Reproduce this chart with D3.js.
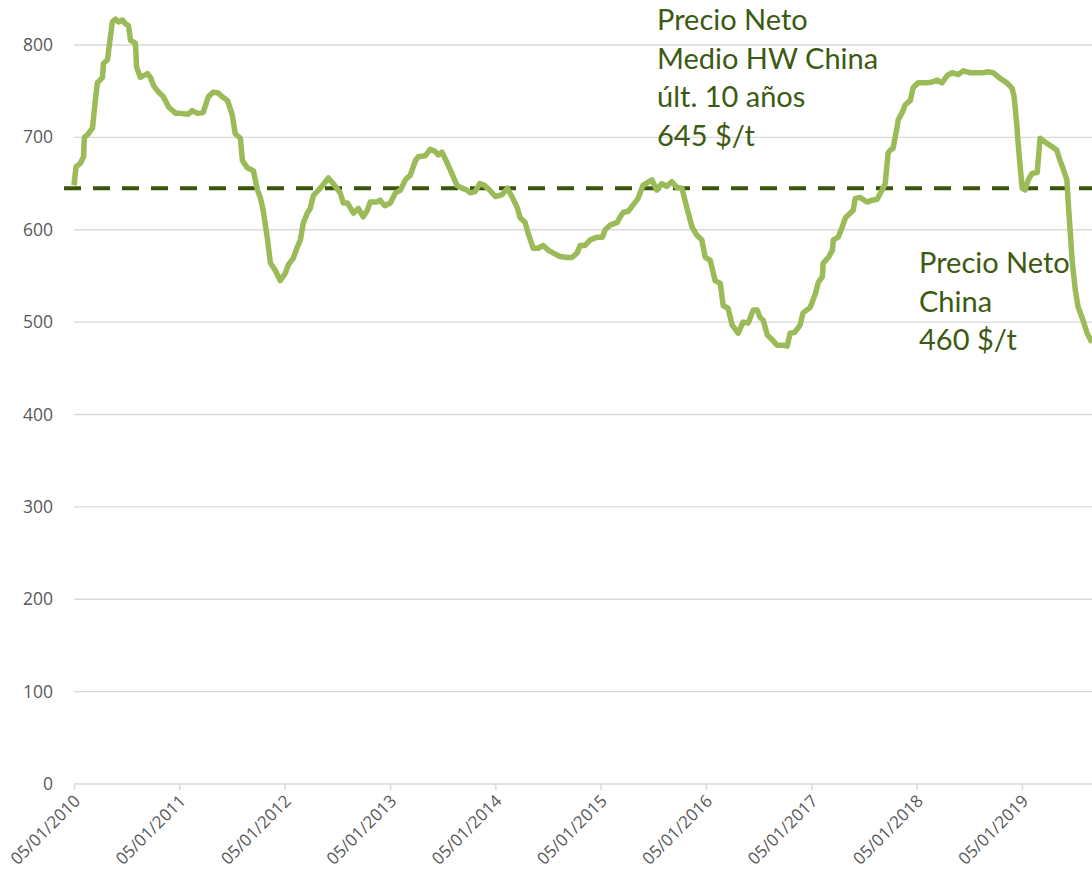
<!DOCTYPE html>
<html>
<head>
<meta charset="utf-8">
<script src="https://cdn.jsdelivr.net/npm/d3@7"></script>
<style>
  body { margin: 0; background: #fff; }
  svg { display: block; }
</style>
</head>
<body>
<svg id="chart" width="1092" height="874"></svg>
<script>
const canvasWidth = 1092,
    canvasHeight = 874,
    padding = { top: 45, right: 0, bottom: 90, left: 74 }

// weekly-ish net price, $/t
const dates = [
  '2010-01-05','2010-01-12','2010-01-27','2010-02-07','2010-02-10','2010-02-24','2010-03-10','2010-03-20','2010-03-27','2010-04-14',
  '2010-04-17','2010-05-01','2010-05-05','2010-05-18','2010-05-29','2010-06-08','2010-06-22','2010-07-02','2010-07-13','2010-07-20',
  '2010-08-06','2010-08-10','2010-08-23','2010-09-17','2010-09-27','2010-10-08','2010-10-25','2010-11-11','2010-11-29','2010-12-23',
  '2011-01-09','2011-02-05','2011-02-19','2011-03-09','2011-03-29','2011-04-16','2011-05-03','2011-05-20','2011-06-03','2011-06-21',
  '2011-07-08','2011-07-18','2011-08-05','2011-08-12','2011-08-29','2011-09-19','2011-10-03','2011-10-13','2011-10-23','2011-11-06',
  '2011-11-17','2011-12-04','2011-12-21','2012-01-08','2012-01-18','2012-02-04','2012-02-18','2012-02-29','2012-03-10','2012-03-24',
  '2012-04-03','2012-04-14','2012-05-08','2012-06-05','2012-06-22','2012-07-16','2012-07-27','2012-08-10','2012-08-31','2012-09-17',
  '2012-10-04','2012-10-18','2012-10-28','2012-11-21','2012-12-01','2012-12-18','2013-01-06','2013-01-24','2013-02-10','2013-02-27',
  '2013-03-16','2013-04-03','2013-04-13','2013-05-07','2013-05-24','2013-06-10','2013-06-21','2013-07-04','2013-07-21','2013-08-07',
  '2013-08-25','2013-09-11','2013-09-28','2013-10-09','2013-10-26','2013-11-12','2013-11-29','2013-12-16','2014-01-05','2014-01-29',
  '2014-02-16','2014-03-05','2014-03-22','2014-04-01','2014-04-18','2014-04-29','2014-05-16','2014-06-02','2014-06-20','2014-07-07',
  '2014-07-24','2014-08-17','2014-09-11','2014-09-28','2014-10-16','2014-10-26','2014-11-12','2014-11-30','2014-12-24','2015-01-11',
  '2015-01-21','2015-02-07','2015-03-04','2015-03-14','2015-03-25','2015-04-11','2015-04-28','2015-05-15','2015-06-01','2015-07-02',
  '2015-07-19','2015-08-05','2015-08-22','2015-09-09','2015-09-26','2015-10-14','2015-10-31','2015-11-18','2015-12-05','2015-12-22',
  '2016-01-03','2016-01-20','2016-02-06','2016-02-24','2016-03-05','2016-03-22','2016-04-05','2016-04-26','2016-05-13','2016-05-31',
  '2016-06-17','2016-07-01','2016-07-11','2016-07-22','2016-08-05','2016-08-22','2016-09-08','2016-09-29','2016-10-13','2016-10-23',
  '2016-11-09','2016-11-27','2016-12-07','2017-01-01','2017-01-19','2017-01-29','2017-02-12','2017-02-15','2017-03-05','2017-03-19',
  '2017-03-22','2017-04-08','2017-04-22','2017-05-03','2017-05-20','2017-05-30','2017-06-06','2017-06-23','2017-07-17','2017-08-04',
  '2017-08-21','2017-09-07','2017-09-18','2017-09-28','2017-10-05','2017-10-15','2017-10-29','2017-11-02','2017-11-16','2017-11-26',
  '2017-12-14','2017-12-24','2018-01-10','2018-02-10','2018-02-28','2018-03-17','2018-04-03','2018-04-21','2018-05-08','2018-05-29',
  '2018-06-15','2018-07-09','2018-08-06','2018-08-23','2018-09-09','2018-09-27','2018-10-21','2018-11-14','2018-12-02','2018-12-09',
  '2018-12-19','2018-12-22','2018-12-30','2019-01-06','2019-01-16','2019-01-27','2019-02-09','2019-02-27','2019-03-09','2019-03-26',
  '2019-04-19','2019-05-06','2019-05-17','2019-05-27','2019-06-10','2019-06-14','2019-06-21','2019-06-28','2019-07-09','2019-07-19',
  '2019-08-05','2019-08-19','2019-09-05'
]
const prices = [
  648,668,672,679,700,704,710,740,759,765,
  780,784,794,825,828,825,827,823,821,805,
  802,776,765,769,765,756,749,744,733,726,
  726,725,729,726,727,744,749,748,744,740,
  724,704,699,675,667,664,643,635,621,592,
  564,556,545,553,562,569,581,589,607,618,
  623,637,645,656,650,640,629,629,618,623,
  614,621,630,630,632,626,629,640,643,654,
  659,675,679,680,687,685,681,684,673,661,
  648,645,643,640,641,650,648,643,636,638,
  645,635,624,613,608,596,580,580,583,578,
  575,571,570,570,575,583,583,589,592,592,
  600,605,608,614,619,620,627,634,648,654,
  643,650,647,652,646,645,624,603,594,589,
  570,567,545,542,518,515,497,488,500,499,
  513,513,505,502,486,481,475,475,474,488,
  489,497,510,516,531,543,549,564,570,578,
  589,592,603,613,618,621,634,635,630,632,
  633,643,650,683,686,688,711,719,727,735,
  740,754,759,759,760,762,759,767,770,768,
  772,770,770,770,771,770,764,759,753,744,
  711,697,668,645,643,654,661,662,699,695,
  690,686,675,667,654,632,600,567,535,516,
  502,488,478
]

const average = 645
const yTicks = [0, 100, 200, 300, 400, 500, 600, 700, 800]
const tickYears = [2010, 2011, 2012, 2013, 2014, 2015, 2016, 2017, 2018, 2019]
const avgLabel = ['Precio Neto', 'Medio HW China', 'últ. 10 años', '645 $/t']
const lastLabel = ['Precio Neto', 'China', '460 $/t']

const parse = d3.timeParse('%Y-%m-%d')
const fmt = d3.timeFormat('%d/%m/%Y')

const data = dates.map((d, i) => ({ date: parse(d), value: prices[i] }))

const x = d3.scaleTime()
    .domain([data[0].date, data[data.length - 1].date])
    .range([padding.left, canvasWidth - padding.right])

const y = d3.scaleLinear()
    .domain([0, 800])
    .range([canvasHeight - padding.bottom, padding.top])

const svg = d3.select('#chart')

// gridlines
svg.append('g')
    .selectAll('line')
    .data(yTicks.filter(t => t > 0))
    .enter().append('line')
    .attr('x1', padding.left)
    .attr('x2', canvasWidth)
    .attr('y1', d => y(d))
    .attr('y2', d => y(d))
    .attr('stroke', '#d9d9d9')
    .attr('stroke-width', 1.3)

// y axis labels
const yAxis = d3.axisLeft(y).tickValues(yTicks).tickSize(0).tickPadding(0)
svg.append('g')
    .attr('transform', `translate(${padding.left - 21}, 0)`)
    .call(yAxis)
    .call(g => g.select('.domain').remove())
    .selectAll('text')
    .attr('font-family', '"Open Sans", sans-serif')
    .attr('font-size', 17.5)
    .attr('fill', '#595959')

// x axis
const xAxis = d3.axisBottom(x)
    .tickValues(tickYears.map(yr => new Date(yr, 0, 5)))
    .tickFormat(fmt)
    .tickSizeInner(6)
    .tickSizeOuter(0)

svg.append('g')
    .attr('transform', `translate(0, ${y(0)})`)
    .call(xAxis)
    .call(g => g.select('.domain').attr('stroke', '#d9d9d9').attr('stroke-width', 1.5)
        .attr('d', `M${padding.left},0H${canvasWidth}`))
    .call(g => g.selectAll('.tick line').attr('stroke', '#d9d9d9').attr('stroke-width', 1.5))
    .selectAll('text')
    .attr('font-family', '"Open Sans", sans-serif')
    .attr('font-size', 17)
    .attr('fill', '#595959')
    .attr('text-anchor', 'end')
    .attr('dy', null)
    .attr('y', 0)
    .attr('transform', 'translate(7, 18) rotate(-45)')

// average line
svg.append('line')
    .attr('x1', padding.left - 10)
    .attr('x2', canvasWidth)
    .attr('y1', y(average))
    .attr('y2', y(average))
    .attr('stroke', '#3a5408')
    .attr('stroke-width', 4)
    .attr('stroke-dasharray', '17,12')

// price line
const line = d3.line()
    .x(d => x(d.date))
    .y(d => y(d.value))

svg.append('path')
    .datum(data)
    .attr('fill', 'none')
    .attr('stroke', '#9bbb59')
    .attr('stroke-width', 5.5)
    .attr('stroke-linejoin', 'round')
    .attr('d', line)

// annotations
function annotate(lines, px, py) {
    svg.append('text')
        .attr('x', px)
        .attr('y', py)
        .attr('font-family', 'Lato, sans-serif')
        .attr('font-size', 29)
        .attr('fill', '#3d5a12')
        .selectAll('tspan')
        .data(lines)
        .enter().append('tspan')
        .attr('x', px)
        .attr('dy', (d, i) => i ? 38.5 : 0)
        .text(d => d)
}

annotate(avgLabel, 657, 30)
annotate(lastLabel, 919, 273)
</script>
</body>
</html>
